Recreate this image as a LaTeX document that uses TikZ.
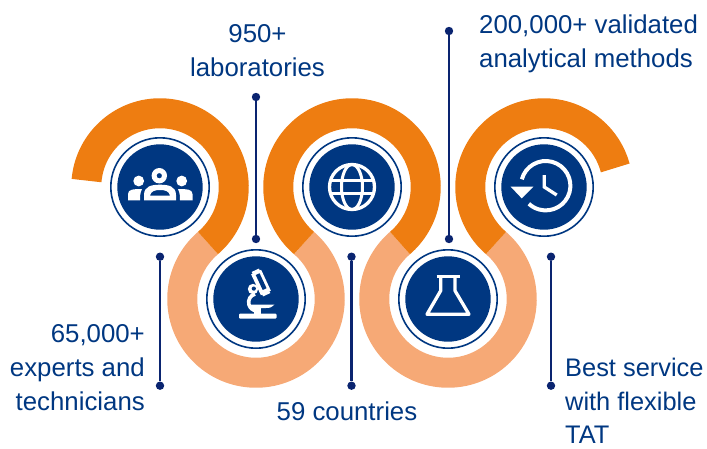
\documentclass[tikz,border=0pt]{standalone}
\usepackage{fontspec}
\setmainfont{Liberation Sans}
\definecolor{navy}{HTML}{003781}
\definecolor{dotnavy}{HTML}{0A2470}
\definecolor{orng}{HTML}{EE7D11}
\definecolor{peach}{HTML}{F6A976}
\tikzset{
  x=1pt,y=1pt,
  band/.style={line width=30pt,line cap=butt},
  disc/.style={circle,fill=navy,inner sep=0pt,minimum size=85.4pt},
  halo/.style={circle,draw=navy,line width=1.6pt,fill=white,inner sep=0pt,minimum size=98.4pt},
  pin/.style={circle,fill=dotnavy,inner sep=0pt,minimum size=8.4pt},
  wire/.style={draw=dotnavy,line width=2.1pt},
  lbl/.style={text=navy,font=\fontsize{25.8}{34}\selectfont,inner sep=0pt,align=center},
  ico/.style={draw=white,line width=3.3pt,fill=none},
}
\begin{document}
\begin{tikzpicture}
\useasboundingbox (0,0) rectangle (707,-448);
\def\R{73.75}
\draw[band,peach] (256,-299)++(130.6:\R) arc[start angle=130.6,end angle=409.4,radius=\R];
\draw[band,peach] (448,-299)++(130.6:\R) arc[start angle=130.6,end angle=409.4,radius=\R];
\draw[band,orng] (160,-187)++(175:\R) arc[start angle=175,end angle=-49.4,radius=\R];
\draw[band,orng] (352,-187)++(229.4:\R) arc[start angle=229.4,end angle=-49.4,radius=\R];
\draw[band,orng] (544,-187)++(229.4:\R) arc[start angle=229.4,end angle=15,radius=\R];
\foreach \n/\cx/\cy in {a/160/-187,b/256/-299,c/352/-187,d/448/-299,e/544/-187}{
  \node[halo] (h\n) at (\cx,\cy) {};
  \node[disc] (n\n) at (\cx,\cy) {};
}
% pins and connectors
\node[pin] (p1) at (256,-97) {};  \node[pin] (p2) at (256,-239) {};
\node[pin] (p3) at (160,-256.7) {};\node[pin] (p4) at (160,-385.7) {};
\node[pin] (p5) at (351.5,-256.7) {};\node[pin] (p6) at (351.5,-385.7) {};
\node[pin] (p7) at (449,-31) {};  \node[pin] (p8) at (449,-239) {};
\node[pin] (p9) at (551,-256.7) {};\node[pin] (p10) at (551,-385.7) {};
\draw[wire] (p1)--(p2); \draw[wire] (p3)--(p4); \draw[wire] (p5)--(p6);
\draw[wire] (p7)--(p8); \draw[wire] (p9)--(p10);
% people icon
\begin{scope}[shift={(160,-187)}]
\fill[white] (-21.3,6) circle (5.4) (21.7,6) circle (5.4);
\fill[white,even odd rule] (-0.7,11.3) circle (7.7) (-0.7,11.3) circle (2.7);
\fill[white] (-32,-13.3) -- (-32,-7) .. controls (-32,-2) and (-26,-2) .. (-18,-2) .. controls (-20,-6) and (-20,-10) .. (-20,-13.3) -- cycle;
\fill[white] (32.5,-13.3) -- (32.5,-7) .. controls (32.5,-2) and (26,-2) .. (18,-2) .. controls (20,-6) and (20,-10) .. (20,-13.3) -- cycle;
\fill[white,even odd rule] (-16,-13.3) -- (-16,-8) .. controls (-16,1) and (-8,2.3) .. (0,2.3) .. controls (8,2.3) and (16,1) .. (16,-8) -- (16,-13.3) -- cycle
  (-10,-8.5) -- (10,-8.5) .. controls (9,-4) and (5,-3) .. (0,-3) .. controls (-5,-3) and (-9,-4) .. (-10,-8.5) -- cycle;
\end{scope}
% globe icon
\begin{scope}[shift={(352,-187)}]
\draw[ico] (0,0) circle (22.5);
\draw[ico,line width=3pt] (0,0) ellipse (10.5 and 22.5);
\draw[ico,line width=3pt] (-21,6.8) -- (21,6.8) (-21,-6.8) -- (21,-6.8);
\end{scope}
% microscope icon
\begin{scope}[shift={(256,-299)}]
\fill[white,rounded corners=1pt] (-17,-14.5) rectangle (20.5,-19.5);
\fill[white] (-1.7,-15) rectangle (5,-7);
\fill[white] (-6,-10.5) .. controls (2,-9.5) and (6,-9) .. (10,-9) .. controls (14,-9) and (17,-8) .. (18.5,-5.5) -- (-6,-5.5) -- cycle;
\draw[ico,line width=3.6pt] (-1,5) arc[start angle=105,end angle=265,radius=8.6];
\begin{scope}[shift={(5,16.5)},rotate=25]
\fill[white] (-5.5,-11.5) rectangle (5.5,11.5);
\fill[white] (-4,11) rectangle (4,13.5);
\fill[white] (-4,-11) rectangle (4,-13.5);
\fill[navy] (-1.6,-7.5) rectangle (2.6,9);
\end{scope}
\fill[white] (-3,10) circle (5.2);
\fill[navy] (-2.2,10.4) circle (2.1);
\end{scope}
% flask icon
\begin{scope}[shift={(448,-299)}]
\draw[ico,line cap=butt] (-11.5,22.6) -- (12,22.6);
\draw[ico,line join=round] (-7.3,22) -- (-7.3,8.3) -- (-21,-15.3) -- (21,-15.3) -- (7,8.3) -- (7,22);
\end{scope}
% history icon
\begin{scope}[shift={(544,-187)}]
\draw[ico,line width=4pt] (1.7,1.3)++(165:24.7) arc[start angle=165,end angle=-133,radius=24.7];
\fill[white] (-33.3,0.3) -- (-10.7,0.3) -- (-22.3,-11.3) -- cycle;
\draw[ico,line width=3.3pt,line cap=butt] (0.3,12) -- (0.3,0) -- (12.7,-8);
\end{scope}
% labels
\node[lbl] (t1) at (257.5,-50.5) {950+\\laboratories};
\node[lbl,align=right,anchor=north east] (t2) at (145,-324.5) {65,000+\\experts and\\technicians};
\node[lbl] (t3) at (347,-411) {59 countries};
\node[lbl,anchor=north west,align=left] (t4) at (479,-14.5) {200,000+ validated\\analytical methods};
\node[lbl,align=left,anchor=north west,font=\fontsize{25.4}{33.5}\selectfont] (t5) at (565,-358) {Best service\\with flexible\\TAT\vspace{-8pt}};
\end{tikzpicture}
\end{document}
